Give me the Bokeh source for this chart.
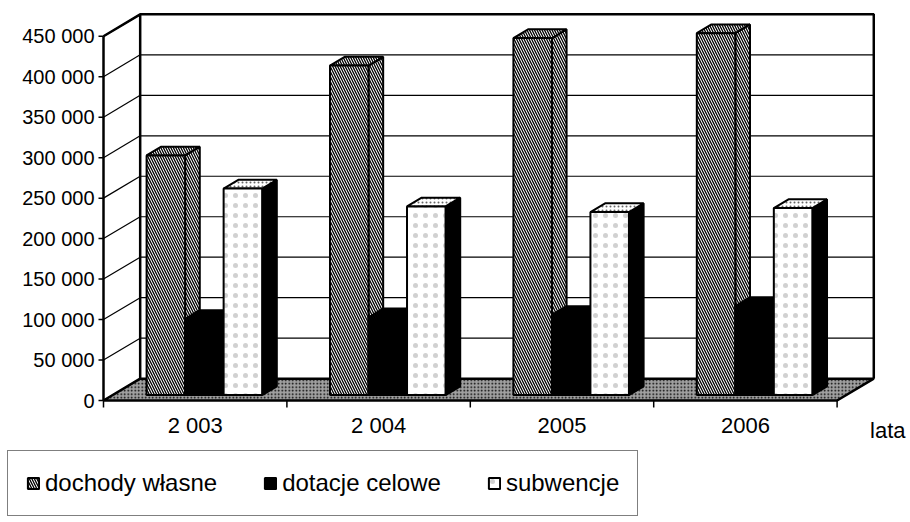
from bokeh.plotting import figure
from bokeh.models import Legend, LegendItem, ColumnDataSource
from bokeh.core.properties import value
from bokeh.embed import file_html
from bokeh.resources import INLINE

# ---- data ----
years = ["2 003", "2 004", "2005", "2006"]
series_names = ["dochody własne", "dotacje celowe", "subwencje"]
dochody = [296000, 407000, 441000, 447000]
dotacje = [94000, 96000, 99000, 110000]
subwencje = [255000, 233000, 226000, 231000]
y_ticks = [0, 50000, 100000, 150000, 200000, 250000, 300000, 350000, 400000, 450000]
y_tick_labels = ["0", "50 000", "100 000", "150 000", "200 000", "250 000",
                 "300 000", "350 000", "400 000", "450 000"]
x_title = "lata"

# ---- layout (pixels) ----
W, H = 910, 522
AX_X, AX_Y = 103, 400          # where the front value axis / zero line sit
PXX = 183.4                    # pixels per category
PXY = 0.0008095                # pixels per value unit
FONT = "Liberation Sans"

# ---- pseudo-3D geometry (oblique projection) ----
n = len(years)
YMAX = y_ticks[-1]
DX = 0.2        # depth offset in category units
DY = 27000      # depth offset in value units
Z0, Z1 = 0.25, 0.65   # bar front / back depth
BW = 0.21       # bar width
TITLE_X = n + 0.18

p = figure(frame_width=W, frame_height=H,
           x_range=(-AX_X / PXX, (W - AX_X) / PXX),
           y_range=(-(H - AX_Y) / PXY, AX_Y / PXY),
           output_backend="svg", toolbar_location=None, min_border=0)
p.xaxis.visible = False
p.yaxis.visible = False
p.xgrid.grid_line_color = None
p.ygrid.grid_line_color = None
p.outline_line_color = None
p.background_fill_color = "white"

# floor
p.patch([0, n, n + DX, DX], [0, 0, DY, DY], fill_color="#a0a0a0",
        hatch_pattern="dot", hatch_color="black", hatch_scale=3.5, hatch_weight=2.0,
        line_color="black", line_width=2.5)

# side wall diagonals and back wall grid lines
p.segment(x0=[0] * len(y_ticks), y0=y_ticks, x1=[DX] * len(y_ticks),
          y1=[v + DY for v in y_ticks], line_color="black", line_width=1.2)
p.segment(x0=[DX] * len(y_ticks), y0=[v + DY for v in y_ticks],
          x1=[n + DX] * len(y_ticks), y1=[v + DY for v in y_ticks],
          line_color="black", line_width=1.2)
# wall frame and front value axis
p.line([0, DX, n + DX, n + DX], [YMAX, YMAX + DY, YMAX + DY, DY], line_color="black", line_width=2.5)
p.line([DX, DX], [DY, YMAX + DY], line_color="black", line_width=2.5)
p.line([0, 0], [0, YMAX], line_color="black", line_width=2.5)

# value-axis ticks and labels
p.segment(x0=[-5 / PXX] * len(y_ticks), y0=y_ticks, x1=[0] * len(y_ticks), y1=y_ticks,
          line_color="black", line_width=1.5)
p.text(x=[0] * len(y_ticks), y=y_ticks, text=y_tick_labels, x_offset=-9,
       text_align="right", text_baseline="middle", text_font=value(FONT),
       text_font_size="20px", text_color="black")

# category-axis ticks, labels and title
p.segment(x0=list(range(n + 1)), y0=[0] * (n + 1), x1=list(range(n + 1)),
          y1=[-7 / PXY] * (n + 1), line_color="black", line_width=1.5)
p.text(x=[i + 0.5 for i in range(n)], y=[0] * n, text=years, y_offset=25,
       text_align="center", text_baseline="middle", text_font=value(FONT),
       text_font_size="22px", text_color="black")
p.text(x=[TITLE_X], y=[0], text=[x_title], y_offset=30,
       text_align="left", text_baseline="middle", text_font=value(FONT),
       text_font_size="22px", text_color="black")

hatched = dict(fill_color="white", hatch_pattern="left_diagonal_line", hatch_color="black",
               hatch_scale=5, hatch_weight=1.3)
styles = [
    dict(front=hatched, side=hatched, top=hatched),
    dict(front=dict(fill_color="black"), side=dict(fill_color="black"), top=dict(fill_color="black")),
    dict(front=dict(fill_color="white", hatch_pattern="dot", hatch_color="black",
                    hatch_scale=10, hatch_weight=0.5, hatch_alpha=0.18),
         side=dict(fill_color="black"),
         top=dict(fill_color="white", hatch_pattern="dot", hatch_color="black",
                  hatch_scale=4, hatch_weight=0.8, hatch_alpha=0.6)),
]

legend_items = []
for k, vals in enumerate([dochody, dotacje, subwencje]):
    xl = [i + 0.5 - 1.5 * BW + k * BW for i in range(n)]
    xr = [x + BW for x in xl]
    side = ColumnDataSource(dict(
        xs=[[r + Z0 * DX, r + Z1 * DX, r + Z1 * DX, r + Z0 * DX] for r in xr],
        ys=[[Z0 * DY, Z1 * DY, v + Z1 * DY, v + Z0 * DY] for v in vals]))
    top = ColumnDataSource(dict(
        xs=[[l + Z0 * DX, r + Z0 * DX, r + Z1 * DX, l + Z1 * DX] for l, r in zip(xl, xr)],
        ys=[[v + Z0 * DY, v + Z0 * DY, v + Z1 * DY, v + Z1 * DY] for v in vals]))
    front = ColumnDataSource(dict(
        left=[l + Z0 * DX for l in xl], right=[r + Z0 * DX for r in xr],
        bottom=[Z0 * DY] * n, top=[v + Z0 * DY for v in vals]))
    st = styles[k]
    p.patches("xs", "ys", source=side, line_color="black", line_width=2, **st["side"])
    p.patches("xs", "ys", source=top, line_color="black", line_width=2, **st["top"])
    rf = p.quad(left="left", right="right", bottom="bottom", top="top", source=front,
                line_color="black", line_width=2, **st["front"])
    legend_items.append(LegendItem(label=series_names[k], renderers=[rf]))

legend = Legend(items=legend_items, orientation="horizontal", location=(7, 6),
                label_text_font=FONT, label_text_font_size="24px", label_text_color="black",
                glyph_width=14, glyph_height=14, label_standoff=5, spacing=46, padding=18,
                margin=0, border_line_color="black", border_line_width=1.5,
                background_fill_color="white", background_fill_alpha=1.0)
p.add_layout(legend)

open("out.html", "w").write(file_html(p, INLINE))
